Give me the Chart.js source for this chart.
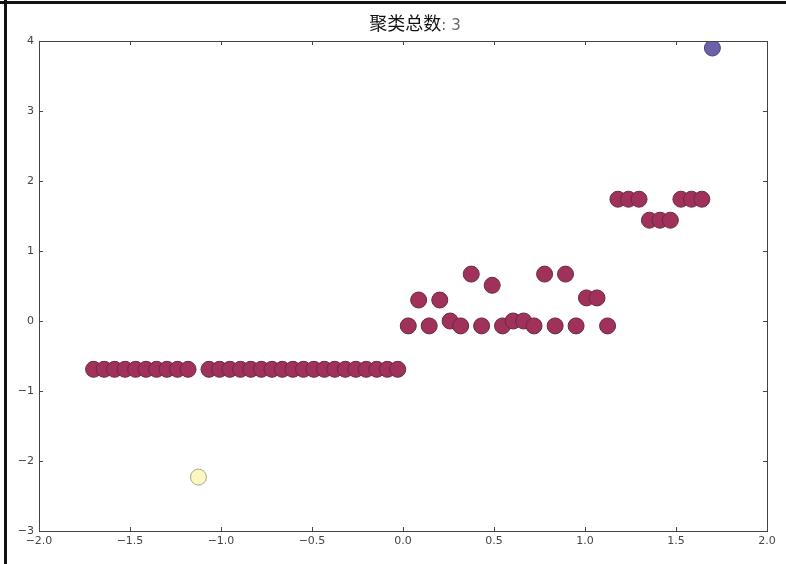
<!DOCTYPE html>
<html>
<head>
<meta charset="utf-8">
<script src="https://cdn.jsdelivr.net/npm/chart.js@4/dist/chart.umd.min.js"></script>
<style>
  html, body { margin: 0; padding: 0; background: #fff; }
  #wrap { position: relative; width: 786px; height: 564px; overflow: hidden; }
  #c { position: absolute; left: 0; top: 0; }
  .bar { position: absolute; background: #111; }
</style>
</head>
<body>
<div id="wrap">
  <canvas id="c" width="786" height="564"></canvas>
  <div class="bar" style="left:0;top:1px;width:786px;height:3px"></div>
  <div class="bar" style="left:4px;top:0;width:3px;height:564px"></div>
</div>
<script>
// ---- data ----
const titleMain = "聚类总数";
const titleCount = ": 3";

const xValues = [
  -1.700, -1.642, -1.585, -1.527, -1.469, -1.412, -1.354, -1.297, -1.239, -1.181,
  -1.124, -1.066, -1.008, -0.951, -0.893, -0.836, -0.778, -0.720, -0.663, -0.605,
  -0.547, -0.490, -0.432, -0.375, -0.317, -0.259, -0.202, -0.144, -0.086, -0.029,
   0.029,  0.086,  0.144,  0.202,  0.259,  0.317,  0.375,  0.432,  0.490,  0.547,
   0.605,  0.663,  0.720,  0.778,  0.836,  0.893,  0.951,  1.008,  1.066,  1.124,
   1.181,  1.239,  1.297,  1.354,  1.412,  1.469,  1.527,  1.585,  1.642,  1.700
];
const yValues = [
  -0.69, -0.69, -0.69, -0.69, -0.69, -0.69, -0.69, -0.69, -0.69, -0.69,
  -2.23, -0.69, -0.69, -0.69, -0.69, -0.69, -0.69, -0.69, -0.69, -0.69,
  -0.69, -0.69, -0.69, -0.69, -0.69, -0.69, -0.69, -0.69, -0.69, -0.69,
  -0.07,  0.30, -0.07,  0.30,  0.00, -0.07,  0.67, -0.07,  0.51, -0.07,
   0.00,  0.00, -0.07,  0.67, -0.07,  0.67, -0.07,  0.33,  0.33, -0.07,
   1.74,  1.74,  1.74,  1.44,  1.44,  1.44,  1.74,  1.74,  1.74,  3.90
];
const clusterLabels = [
  0,0,0,0,0,0,0,0,0,0,
  1,0,0,0,0,0,0,0,0,0,
  0,0,0,0,0,0,0,0,0,0,
  0,0,0,0,0,0,0,0,0,0,
  0,0,0,0,0,0,0,0,0,0,
  0,0,0,0,0,0,0,0,0,2
];
const clusterNames = ["簇 0", "簇 1", "簇 2"];
const xTicks = [-2.0, -1.5, -1.0, -0.5, 0.0, 0.5, 1.0, 1.5, 2.0];
const yTicks = [-3, -2, -1, 0, 1, 2, 3, 4];

// ---- styles ----
const fills = ["#a0315a", "#fbf7c0", "#6c61a8"];
const edges = ["#6a2a42", "#a8a58a", "#4e4880"];

const datasets = clusterNames.map((name, ci) => ({
  label: name,
  data: xValues.map((x, i) => ({ x: x, y: yValues[i] })).filter((p, i) => clusterLabels[i] === ci),
  backgroundColor: fills[ci],
  borderColor: edges[ci],
  borderWidth: 1,
  pointRadius: 8,
  pointHoverRadius: 8
}));

const fmt = (v, d) => {
  const n = Number(v);
  const s = Math.abs(n).toFixed(d);
  return n < 0 ? "\u2212" + s : s;
};

const framePlugin = {
  id: "frame",
  afterDatasetsDraw(chart) {
    const { ctx, chartArea: a, scales } = chart;
    ctx.save();
    ctx.strokeStyle = "#444";
    ctx.lineWidth = 1;
    const L = 4;
    ctx.beginPath();
    xTicks.forEach(v => {
      const px = Math.round(scales.x.getPixelForValue(v)) + 0.5;
      ctx.moveTo(px, a.bottom); ctx.lineTo(px, a.bottom - L);
      ctx.moveTo(px, a.top); ctx.lineTo(px, a.top + L);
    });
    yTicks.forEach(v => {
      const py = Math.round(scales.y.getPixelForValue(v)) + 0.5;
      ctx.moveTo(a.left, py); ctx.lineTo(a.left + L, py);
      ctx.moveTo(a.right, py); ctx.lineTo(a.right - L, py);
    });
    ctx.stroke();
    ctx.strokeRect(Math.round(a.left) + 0.5, Math.round(a.top) + 0.5,
                   Math.round(a.right - a.left), Math.round(a.bottom - a.top));
    ctx.restore();
  },
  afterDraw(chart) {
    const { ctx } = chart;
    ctx.save();
    ctx.textBaseline = "alphabetic";
    const f1 = "18px 'Noto Sans CJK SC'";
    const f2 = "15px 'DejaVu Sans'";
    ctx.font = f1; const w1 = ctx.measureText(titleMain).width;
    ctx.font = f2; const w2 = ctx.measureText(titleCount).width;
    const cx = 415;
    const x0 = cx - (w1 + w2) / 2;
    const base = 30;
    ctx.font = f1; ctx.fillStyle = "#111"; ctx.textAlign = "left";
    ctx.fillText(titleMain, x0, base);
    ctx.font = f2; ctx.fillStyle = "#666";
    ctx.fillText(titleCount, x0 + w1, base);
    ctx.restore();
  }
};

new Chart(document.getElementById("c"), {
  type: "scatter",
  data: { datasets },
  options: {
    responsive: false,
    animation: false,
    devicePixelRatio: 1,
    layout: { padding: { left: 0, right: 19, top: 41, bottom: 0 } },
    plugins: {
      legend: { display: false },
      title: { display: false },
      tooltip: { enabled: false }
    },
    scales: {
      x: {
        type: "linear",
        min: -2, max: 2,
        afterBuildTicks: s => { s.ticks = xTicks.map(v => ({ value: v })); },
        afterFit: s => { s.height = 33; },
        grid: { display: false, drawTicks: false },
        border: { display: false },
        ticks: {
          padding: 4,
          color: "#444",
          font: { family: "DejaVu Sans", size: 11 },
          maxRotation: 0,
          autoSkip: false,
          callback: v => fmt(v, 1)
        }
      },
      y: {
        type: "linear",
        min: -3, max: 4,
        afterBuildTicks: s => { s.ticks = yTicks.map(v => ({ value: v })); },
        afterFit: s => { s.width = 39; },
        grid: { display: false, drawTicks: false },
        border: { display: false },
        ticks: {
          padding: 5,
          color: "#444",
          font: { family: "DejaVu Sans", size: 11 },
          autoSkip: false,
          callback: v => fmt(v, 0)
        }
      }
    }
  },
  plugins: [framePlugin]
});
</script>
</body>
</html>
